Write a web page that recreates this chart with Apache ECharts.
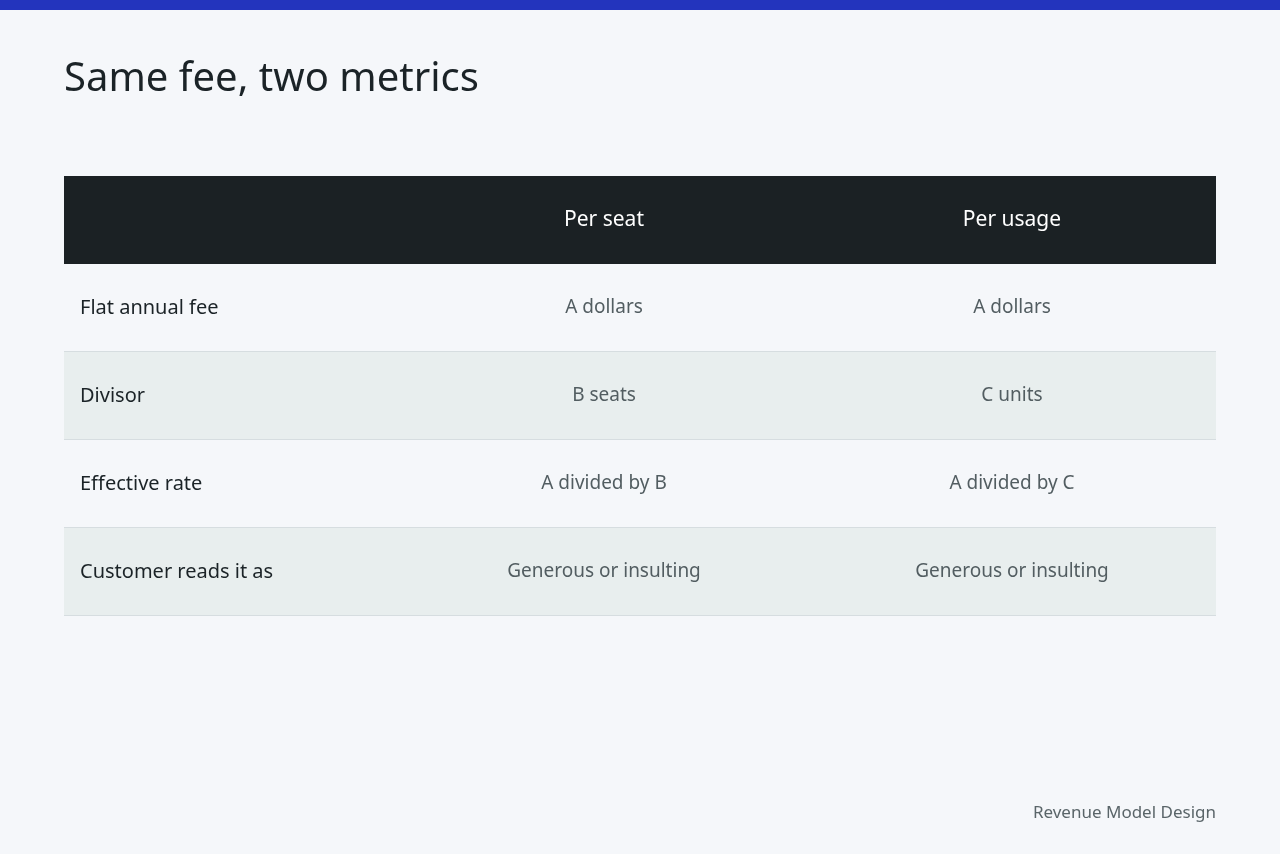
<!DOCTYPE html>
<html><head><meta charset="utf-8">
<script src="https://cdn.jsdelivr.net/npm/echarts@6/dist/echarts.min.js"></script>
<style>html,body{margin:0;padding:0;background:#f5f7fa}#c{width:1280px;height:854px}</style>
</head><body><div id="c"></div>
<script>
const columns = ["", "Per seat", "Per usage"];
const rowLabels = ["Flat annual fee", "Divisor", "Effective rate", "Customer reads it as"];
const perSeat = ["A dollars", "B seats", "A divided by B", "Generous or insulting"];
const perUsage = ["A dollars", "C units", "A divided by C", "Generous or insulting"];

(function(){
const F = "'Noto Sans', sans-serif";
const L = 64, R = 1216, tTop = 176, hh = 88, rh = 88;
const colX = [80, 604, 1012];
const els = [];
els.push({type:'rect', shape:{x:0,y:0,width:1280,height:10}, style:{fill:'#2334bd'}});
els.push({type:'text', x:64, y:80, style:{text:'Same fee, two metrics', font:'40px '+F, fill:'#1b2327', textVerticalAlign:'middle'}});
els.push({type:'rect', shape:{x:L,y:tTop,width:R-L,height:hh}, style:{fill:'#1b2124'}});
columns.forEach((c,i)=>{ if(c) els.push({type:'text', x:colX[i], y:tTop+hh/2, style:{text:c, font:'21px '+F, fill:'#ffffff', textAlign:'center', textVerticalAlign:'middle'}}); });
rowLabels.forEach((lab,r)=>{
  const y = tTop+hh+r*rh;
  els.push({type:'rect', shape:{x:L,y:y,width:R-L,height:rh}, style:{fill: r%2 ? '#e8eeee' : '#f5f7fa'}});
  els.push({type:'rect', shape:{x:L,y:y+rh-1,width:R-L,height:1}, style:{fill:'#d6dde0'}});
  els.push({type:'text', x:colX[0], y:y+rh/2, style:{text:lab, font:'20px '+F, fill:'#1b2327', textVerticalAlign:'middle'}});
  els.push({type:'text', x:colX[1], y:y+rh/2, style:{text:perSeat[r], font:'19px '+F, fill:'#525d61', textAlign:'center', textVerticalAlign:'middle'}});
  els.push({type:'text', x:colX[2], y:y+rh/2, style:{text:perUsage[r], font:'19px '+F, fill:'#525d61', textAlign:'center', textVerticalAlign:'middle'}});
});
els.push({type:'text', x:1216, y:813, style:{text:'Revenue Model Design', font:'17px '+F, fill:'#5a6569', textAlign:'right', textVerticalAlign:'middle'}});
const chart = echarts.init(document.getElementById('c'));
chart.setOption({backgroundColor:'#f5f7fa', animation:false, graphic:{elements:els}});
})();
</script></body></html>
